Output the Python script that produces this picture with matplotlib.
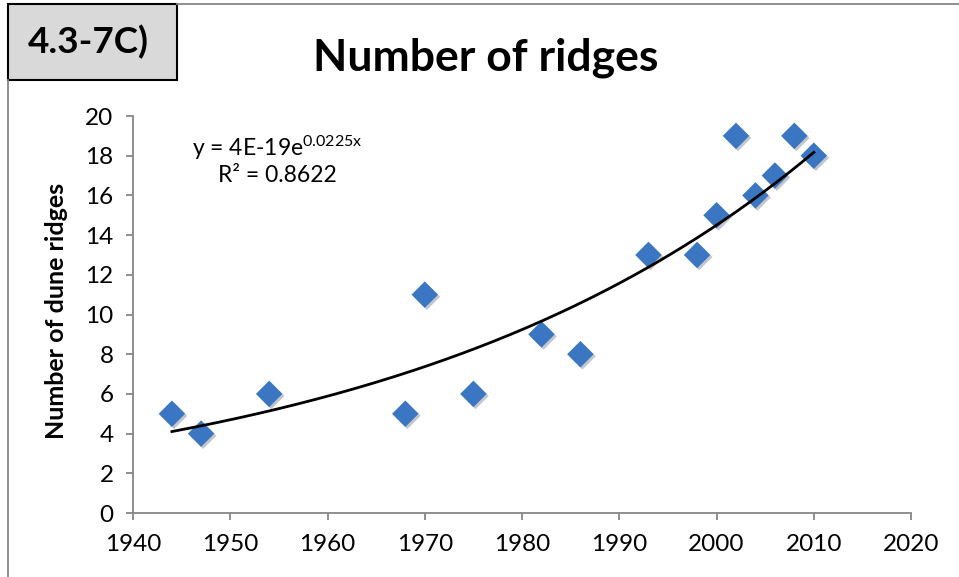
import numpy as np
import matplotlib
import matplotlib.pyplot as plt
from matplotlib import patheffects

matplotlib.use('Agg')

plt.rcParams['font.family'] = ['Lato', 'DejaVu Sans']
plt.rcParams['mathtext.default'] = 'regular'

# survey years and counted dune ridges
years = [1944, 1947, 1954, 1968, 1970, 1975, 1982, 1986, 1993, 1998, 2000, 2002, 2004, 2006, 2008, 2010]
ridges = [5, 4, 6, 5, 11, 6, 9, 8, 13, 13, 15, 19, 16, 17, 19, 18]

x_ticks = [1940, 1950, 1960, 1970, 1980, 1990, 2000, 2010, 2020]
y_ticks = [0, 2, 4, 6, 8, 10, 12, 14, 16, 18, 20]

equation = 'y = 4E-19e$^{0.0225x}$'
r_squared = 'R² = 0.8622'

axis_grey = '#868686'
marker_blue = '#3a76c2'

fig = plt.figure(figsize=(9.59, 5.77), dpi=100)
ax = fig.add_axes([0.1387, 0.1109, 0.8113, 0.688])

# exponential trend, fitted the same way Excel does (linear fit of log y)
slope, intercept = np.polyfit(years, np.log(ridges), 1)
trend_x = np.linspace(min(years), max(years), 200)
trend_y = np.exp(intercept + slope * trend_x)

pts = ax.scatter(years, ridges, marker='D', s=13.5 ** 2, color=marker_blue,
                 linewidths=0, zorder=3)
pts.set_path_effects([patheffects.SimplePatchShadow(offset=(1.5, -1.5), alpha=0.25),
                      patheffects.Normal()])
ax.plot(trend_x, trend_y, color='black', lw=2, zorder=4)

ax.set_xlim(1940, 2020)
ax.set_ylim(0, 20)
ax.set_xticks(x_ticks)
ax.set_yticks(y_ticks)
ax.tick_params(labelsize=17.5, color=axis_grey, length=5, width=1.3, pad=9)
ax.tick_params(axis='x', pad=10)

for side in ['top', 'right']:
    ax.spines[side].set_visible(False)
for side in ['left', 'bottom']:
    ax.spines[side].set_color(axis_grey)
    ax.spines[side].set_linewidth(1.3)

ax.set_ylabel('Number of dune ridges', fontsize=18, fontweight='bold')
ax.yaxis.set_label_coords(-0.0835, 0.509)

ax.text(0.185, 0.919, equation, transform=ax.transAxes, fontsize=16.5, ha='center', va='center')
ax.text(0.185, 0.849, r_squared, transform=ax.transAxes, fontsize=16.5, ha='center', va='center')

fig.text(486 / 959, 1 - 70 / 577, 'Number of ridges', fontsize=32, fontweight='bold',
         ha='center', va='baseline')

# frame lines and the panel label box
fig.add_artist(plt.Line2D([8 / 959, 8 / 959], [0, 1 - 80 / 577], transform=fig.transFigure,
                          color=axis_grey, lw=1.3))
fig.add_artist(plt.Line2D([177 / 959, 1], [1 - 4 / 577, 1 - 4 / 577], transform=fig.transFigure,
                          color=axis_grey, lw=1.3))
fig.add_artist(plt.Rectangle((8 / 959, 1 - 80 / 577), 169 / 959, 76 / 577, transform=fig.transFigure,
                             facecolor='#d9d9d9', edgecolor='black', lw=1.5))
fig.text(88.5 / 959, 1 - 53 / 577, '4.3-7C)', fontsize=26.5, fontweight='bold',
         ha='center', va='baseline')

fig.savefig('out.png', dpi=100)
